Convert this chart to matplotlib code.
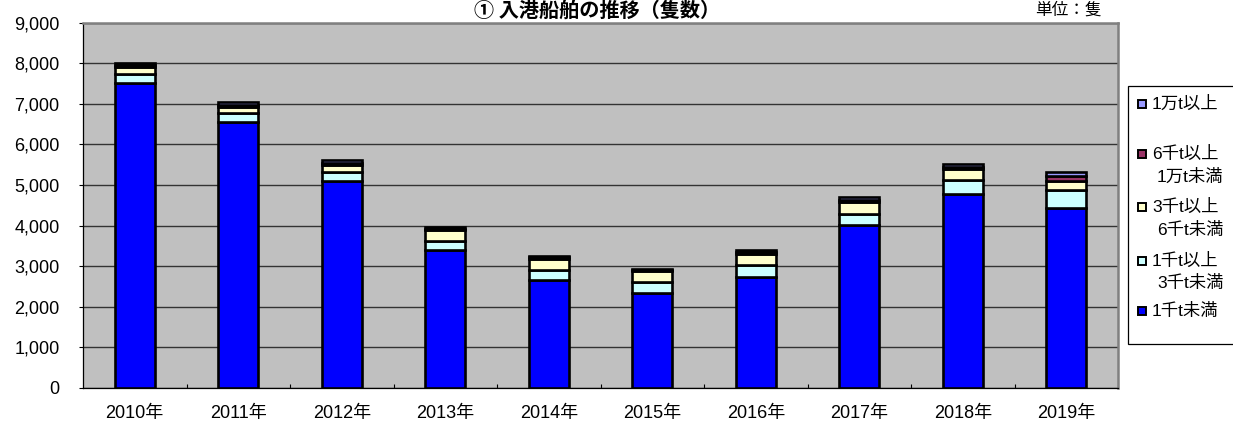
import matplotlib
matplotlib.use("Agg")
import matplotlib.pyplot as plt
from matplotlib.patches import Rectangle
import numpy as np

plt.rcParams['font.family'] = ['Liberation Sans', 'Noto Sans CJK JP']

years = ['2010年', '2011年', '2012年', '2013年', '2014年',
         '2015年', '2016年', '2017年', '2018年', '2019年']
under_1k = [7520, 6550, 5090, 3400, 2660, 2350, 2745, 4015, 4780, 4425]
from_1k_to_3k = [225, 215, 220, 230, 255, 260, 295, 270, 353, 450]
from_3k_to_6k = [170, 155, 180, 255, 262, 263, 262, 287, 254, 230]
from_6k_to_10k = [45, 60, 55, 40, 42, 33, 55, 55, 50, 110]
over_10k = [40, 60, 60, 40, 40, 33, 52, 76, 73, 104]

series = [under_1k, from_1k_to_3k, from_3k_to_6k, from_6k_to_10k, over_10k]
colors = ['#0000FF', '#CCFFFF', '#FFFFCC', '#993366', '#9999FF']

W, H = 1233, 422
fig = plt.figure(figsize=(W / 100, H / 100), dpi=100)
fig.patch.set_facecolor('white')

ax_l, ax_r, ax_t, ax_b = 83, 1118, 22.7, 388
ax = fig.add_axes([ax_l / W, (H - ax_b) / H, (ax_r - ax_l) / W, (ax_b - ax_t) / H])
ax.set_facecolor('#C0C0C0')

x = np.arange(len(years))
bottom = np.zeros(len(years))
for vals, c in zip(series, colors):
    ax.bar(x, vals, width=0.39, bottom=bottom, color=c, edgecolor='black',
           linewidth=1.9, zorder=3)
    bottom += np.array(vals)

ax.set_xlim(-0.5, len(years) - 0.5)
ax.set_ylim(0, 9000)
ax.set_yticks(np.arange(0, 9001, 1000))
ax.set_yticklabels([f'{v:,}' for v in range(0, 9001, 1000)])
ax.yaxis.grid(True, color='#333333', linewidth=1.0, zorder=1)
ax.set_axisbelow(True)

ax.set_xticks(x)
ax.set_xticklabels(years)
ax.set_xticks(np.arange(0.5, len(years) - 1, 1), minor=True)
ax.tick_params(axis='x', which='major', length=0, pad=12, labelsize=13)
ax.tick_params(axis='x', which='minor', direction='in', length=3, width=0.8)
ax.tick_params(axis='y', which='major', direction='out', length=3, width=0.8,
               pad=14, labelsize=13)

for s in ['left', 'bottom']:
    ax.spines[s].set_color('black')
    ax.spines[s].set_linewidth(0.9)
for s in ['top', 'right']:
    ax.spines[s].set_color('#808080')
    ax.spines[s].set_linewidth(1.8)

def fy(py):
    return (H - py) / H

def fx(px):
    return px / W

# Title and unit
fig.text(fx(597), fy(10), '① 入港船舶の推移（隻数）', ha='center', va='center',
         fontsize=14.5, fontweight='bold', family=['Noto Sans CJK JP'])
fig.text(fx(1068), fy(10), '単位：隻', ha='center', va='center',
         fontsize=12, family=['Noto Sans CJK JP'])

# Legend box
fig.patches.append(Rectangle((fx(1128), fy(344)), fx(1245) - fx(1128), fy(86) - fy(344),
                             transform=fig.transFigure, facecolor='white',
                             edgecolor='black', linewidth=0.9))

leg_items = [
    ('#9999FF', ['1万t以上'], [104]),
    ('#993366', ['6千t以上', '1万t未満'], [154, 177]),
    ('#FFFFCC', ['3千t以上', '6千t未満'], [207, 230]),
    ('#CCFFFF', ['1千t以上', '3千t未満'], [261, 283]),
    ('#0000FF', ['1千t未満'], [311]),
]
for col, lines, ys in leg_items:
    fig.patches.append(Rectangle((fx(1138), fy(ys[0] + 4)), fx(8), 8 / H,
                                 transform=fig.transFigure, facecolor=col,
                                 edgecolor='black', linewidth=1.4))
    for i, (t, yy) in enumerate(zip(lines, ys)):
        fig.text(fx(1152 if i == 0 else 1157), fy(yy), t, ha='left', va='center',
                 fontsize=12.5, family=['Liberation Sans', 'Noto Sans CJK JP'])

fig.savefig('out.png', dpi=100)
